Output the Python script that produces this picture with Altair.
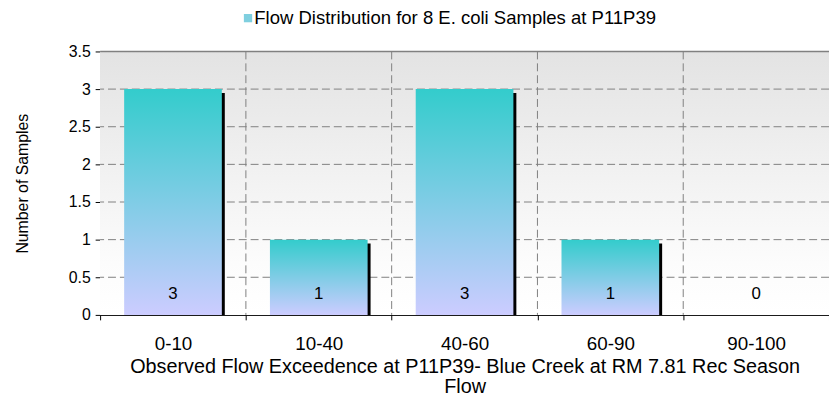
import altair as alt
import pandas as pd

categories = ["0-10", "10-40", "40-60", "60-90", "90-100"]
counts = [3, 1, 3, 1, 0]
y_ticks = [0, 0.5, 1, 1.5, 2, 2.5, 3, 3.5]
legend_label = "Flow Distribution for 8 E. coli Samples at P11P39"
x_title = ["Observed Flow Exceedence at P11P39- Blue Creek at RM 7.81 Rec Season", "Flow"]
y_title = "Number of Samples"

df = pd.DataFrame({"Flow": categories, "Count": counts, "Series": [legend_label] * len(categories)})
grid_df = pd.DataFrame({"tick": y_ticks})

FONT = "Liberation Sans"
W, H = 736, 266
GRID = "#808080"

x_scale = alt.Scale(domain=categories, paddingInner=0, paddingOuter=0)
y_scale = alt.Scale(domain=[0, 3.5], nice=False)

x_axis = alt.Axis(
    title=x_title, tickBand="extent", grid=False, labelAngle=0, labelFontSize=19, labelFont=FONT,
    labelColor="#000000", labelPadding=15, tickSize=5, tickColor="#000000", domainColor="#000000",
    titleFont=FONT, titleFontSize=20, titleFontWeight="normal", titleColor="#000000",
    titlePadding=3, titleLineHeight=20,
)
y_axis = alt.Axis(
    title=y_title, values=y_ticks, grid=False,
    labelFontSize=16, labelFont=FONT, labelColor="#000000", labelPadding=5,
    labelOverlap=False, format="~g",
    tickSize=5, tickColor="#000000", domainColor="#000000",
    titleFont=FONT, titleFontSize=16, titleFontWeight="normal", titleColor="#000000",
    titlePadding=38,
)

x_enc = alt.X("Flow:N", scale=x_scale, sort=categories, axis=x_axis)
y_enc = alt.Y("Count:Q", scale=y_scale, axis=y_axis)

bar_gradient = alt.LinearGradient(
    gradient="linear", x1=0, y1=0, x2=0, y2=1,
    stops=[alt.GradientStop(offset=0, color="#33cccc"), alt.GradientStop(offset=1, color="#ccccff")],
)
bg_gradient = alt.LinearGradient(
    gradient="linear", x1=0, y1=0, x2=0, y2=1,
    stops=[
        alt.GradientStop(offset=0, color="#e3e3e3"),
        alt.GradientStop(offset=0.8, color="#fcfcfc"),
        alt.GradientStop(offset=1, color="#ffffff"),
    ],
)

base = alt.Chart(df)
grid_base = alt.Chart(grid_df)

background = base.mark_rect(color=bg_gradient).encode(
    x=alt.value(0), x2=alt.value(W), y=alt.value(0), y2=alt.value(H)
)
h_grid = grid_base.mark_rule(color=GRID, strokeWidth=1, strokeDash=[8, 4]).encode(
    y=alt.Y("tick:Q", scale=y_scale, axis=y_axis)
).transform_filter("datum.tick > 0 && datum.tick < 3.5")
top_line = grid_base.mark_rule(color=GRID, strokeWidth=1.5).encode(
    y=alt.Y("tick:Q", scale=y_scale, axis=y_axis)
).transform_filter("datum.tick >= 3.5")
v_grid = base.mark_rule(color=GRID, strokeWidth=1, strokeDash=[8, 4]).encode(
    x=alt.X("Flow:N", scale=x_scale, sort=categories, axis=x_axis, bandPosition=0)
).transform_filter(alt.FieldOneOfPredicate(field="Flow", oneOf=categories[1:]))
shadow = base.mark_bar(
    color="#000000", width=alt.RelativeBandSize(0.67), xOffset=3, yOffset=4, clip=True
).encode(x=x_enc, y=y_enc)
bars = base.mark_bar(color=bar_gradient, width=alt.RelativeBandSize(0.67)).encode(x=x_enc, y=y_enc)
labels = base.mark_text(font=FONT, fontSize=17, color="#000000", dy=-21).encode(
    x=x_enc, y=alt.YDatum(0, scale=y_scale, axis=y_axis), text="Count:Q"
)
legend_layer = base.mark_square(opacity=0).encode(
    x=x_enc, y=y_enc,
    color=alt.Color(
        "Series:N", scale=alt.Scale(range=["#7fcfdf"]),
        legend=alt.Legend(
            title=None, orient="none", legendX=140, legendY=-43, symbolType="square",
            symbolSize=70, symbolOpacity=1, symbolStrokeWidth=0,
            labelFont=FONT, labelFontSize=18.7, labelColor="#000000",
            labelOffset={"expr": "-3"}, labelLimit=800,
        ),
    ),
)

chart = (
    alt.layer(background, h_grid, top_line, v_grid, shadow, bars, labels, legend_layer)
    .properties(
        width=W, height=H,
        autosize=alt.AutoSizeParams(type="none"),
        padding={"left": 93, "top": 42, "right": 0, "bottom": 80},
    )
    .configure_view(stroke=None)
    .configure(background="#ffffff")
)

chart.save("out.html", embed_options={"renderer": "svg", "actions": False})
